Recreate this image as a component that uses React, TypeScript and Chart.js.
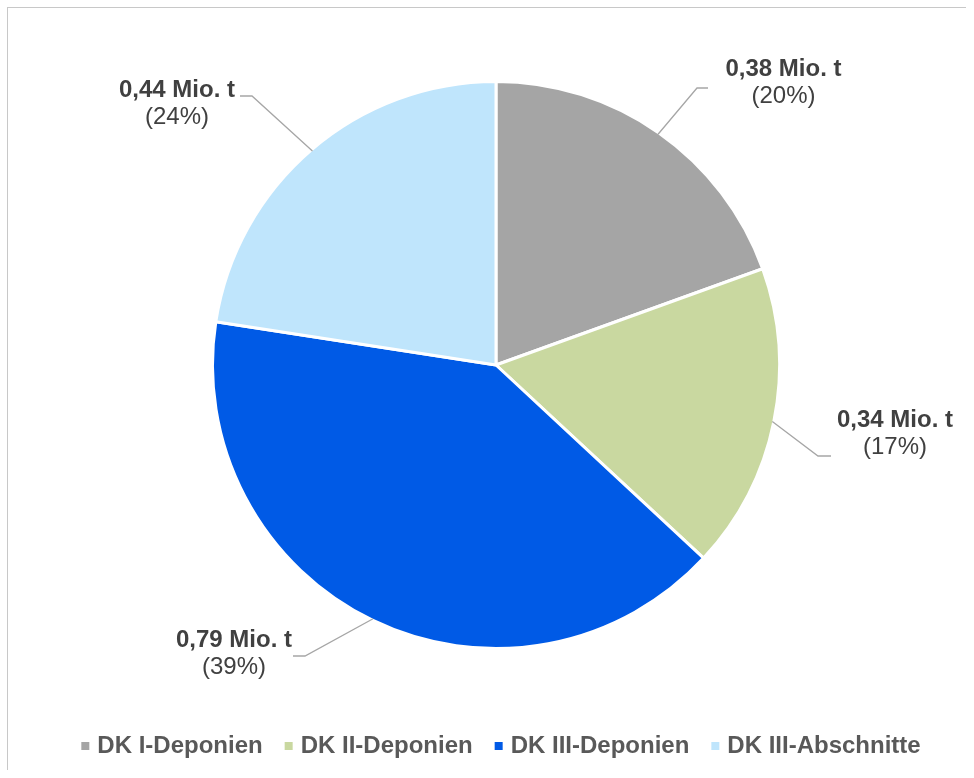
import React, { useEffect, useRef } from 'react';
import { Chart, registerables } from 'chart.js';

Chart.register(...registerables);

const categories = ['DK I-Deponien', 'DK II-Deponien', 'DK III-Deponien', 'DK III-Abschnitte'];
const values = [0.38, 0.34, 0.79, 0.44];
const percentLabels = ['(20%)', '(17%)', '(39%)', '(24%)'];
const colors = ['#A5A5A5', '#C9D8A0', '#005AE6', '#BFE5FC'];

const FONT = '"Liberation Sans", Arial, Helvetica, sans-serif';

// callout placement, relative to the pie centre (pixels)
const calloutLayout = [
  { elbow: [201, -277], end: [212, -277], text: [287.5, -289] },
  { elbow: [322, 91], end: [335, 91], text: [399, 62] },
  { elbow: [-191, 291], end: [-203, 291], text: [-262, 282] },
  { elbow: [-244, -269], end: [-256, -269], text: [-319, -268.5] },
];

const calloutPlugin = {
  id: 'callouts',
  afterDatasetsDraw(chart: any) {
    const meta = chart.getDatasetMeta(0);
    const ctx = chart.ctx;
    ctx.save();
    meta.data.forEach((arc: any, i: number) => {
      const { x, y, startAngle, endAngle, outerRadius } = arc.getProps(
        ['x', 'y', 'startAngle', 'endAngle', 'outerRadius'],
        true
      );
      const mid = (startAngle + endAngle) / 2;
      const r = outerRadius - 1.5;
      const L = calloutLayout[i];
      ctx.beginPath();
      ctx.moveTo(x + Math.cos(mid) * r, y + Math.sin(mid) * r);
      ctx.lineTo(x + L.elbow[0], y + L.elbow[1]);
      ctx.lineTo(x + L.end[0], y + L.end[1]);
      ctx.strokeStyle = '#A6A6A6';
      ctx.lineWidth = 1.3;
      ctx.stroke();

      ctx.fillStyle = '#404040';
      ctx.textAlign = 'center';
      ctx.textBaseline = 'alphabetic';
      ctx.font = `bold 24px ${FONT}`;
      ctx.fillText(values[i].toFixed(2).replace('.', ',') + ' Mio. t', x + L.text[0], y + L.text[1]);
      ctx.font = `24px ${FONT}`;
      ctx.fillText(percentLabels[i], x + L.text[0], y + L.text[1] + 27);
    });
    ctx.restore();
  },
};

export default function App() {
  const canvasRef = useRef<HTMLCanvasElement | null>(null);

  useEffect(() => {
    if (!canvasRef.current) return;
    const chart = new Chart(canvasRef.current, {
      type: 'pie',
      data: {
        labels: categories,
        datasets: [
          {
            data: values,
            backgroundColor: colors,
            borderColor: '#FFFFFF',
            borderWidth: 3,
          },
        ],
      },
      options: {
        animation: false,
        responsive: false,
        devicePixelRatio: 1,
        layout: { padding: { left: 32, right: 0, top: 72, bottom: 2 } },
        plugins: {
          tooltip: { enabled: false },
          legend: {
            position: 'bottom',
            labels: {
              usePointStyle: true,
              pointStyle: 'rect',
              boxWidth: 0.01,
              boxHeight: 11,
              padding: 26,
              color: '#595959',
              font: { family: FONT, size: 24, weight: 'bold' },
            },
          },
          title: {
            display: true,
            text: '',
            position: 'bottom',
            weight: 500,
            font: { size: 1, lineHeight: 1 },
            padding: { top: 28.5, bottom: 28.5 },
          },
          subtitle: {
            display: true,
            text: '',
            position: 'right',
            font: { size: 1, lineHeight: 1 },
            padding: { top: 6.5, bottom: 6.5 },
          },
        },
      } as any,
      plugins: [calloutPlugin],
    });
    return () => chart.destroy();
  }, []);

  return (
    <div
      style={{
        position: 'absolute',
        left: 7,
        top: 7,
        width: 958,
        height: 762,
        borderTop: '1px solid #C8C8C8',
        borderLeft: '1px solid #C8C8C8',
      }}
    >
      <canvas ref={canvasRef} width={958} height={762} style={{ display: 'block' }} />
    </div>
  );
}
